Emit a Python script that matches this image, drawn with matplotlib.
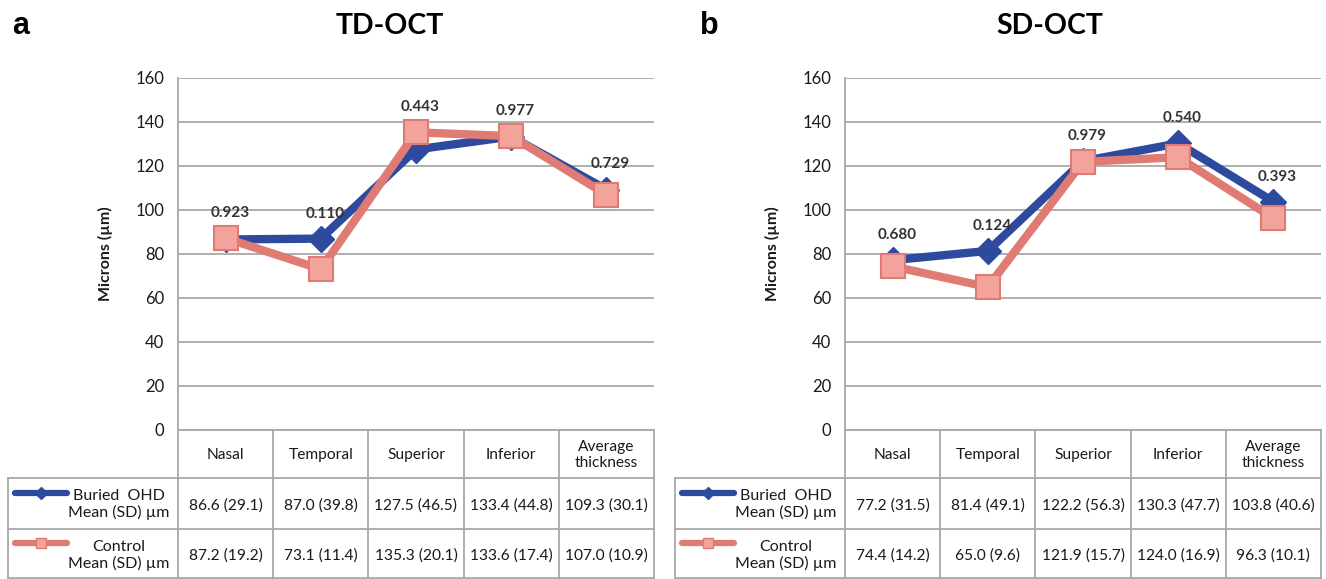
import matplotlib
matplotlib.use("Agg")
import matplotlib.pyplot as plt
from matplotlib.lines import Line2D

plt.rcParams['font.family'] = ['Lato', 'DejaVu Sans']

# ---------------- data ----------------
categories = ["Nasal", "Temporal", "Superior", "Inferior", "Average\nthickness"]
series_names = ["Buried  OHD\nMean (SD) µm", "Control\nMean (SD) µm"]

td_buried_mean = [86.6, 87.0, 127.5, 133.4, 109.3]
td_buried_sd = [29.1, 39.8, 46.5, 44.8, 30.1]
td_control_mean = [87.2, 73.1, 135.3, 133.6, 107.0]
td_control_sd = [19.2, 11.4, 20.1, 17.4, 10.9]
td_pvalues = ["0.923", "0.110", "0.443", "0.977", "0.729"]

sd_buried_mean = [77.2, 81.4, 122.2, 130.3, 103.8]
sd_buried_sd = [31.5, 49.1, 56.3, 47.7, 40.6]
sd_control_mean = [74.4, 65.0, 121.9, 124.0, 96.3]
sd_control_sd = [14.2, 9.6, 15.7, 16.9, 10.1]
sd_pvalues = ["0.680", "0.124", "0.979", "0.540", "0.393"]

y_ticks = [0, 20, 40, 60, 80, 100, 120, 140, 160]

panels = [
    ("a", "TD-OCT", td_buried_mean, td_buried_sd, td_control_mean, td_control_sd, td_pvalues),
    ("b", "SD-OCT", sd_buried_mean, sd_buried_sd, sd_control_mean, sd_control_sd, sd_pvalues),
]

# ---------------- style ----------------
W, H = 1326, 579
BLUE = "#2D4A9F"
PINK = "#DF7B72"
PINK_FACE = "#F2A39C"
GRID = "#A8A8A8"
TXT = "#1a1a1a"
FS = 11.2

fig = plt.figure(figsize=(W / 100, H / 100), dpi=100)

# overlay axes in pixel coordinates for the table
ov = fig.add_axes([0, 0, 1, 1])
ov.set_xlim(0, W)
ov.set_ylim(H, 0)
ov.axis("off")


def px_axes(l, t, r, b):
    return fig.add_axes([l / W, 1 - b / H, (r - l) / W, (b - t) / H])


letter_x = [12, 700]
title_x = [390, 1050]

for k, (letter, title, bm, bsd, cm, csd, pv) in enumerate(panels):
    dx = 667 * k
    left, right, top, bottom = 178 + dx, 654 + dx, 78, 430
    ax = px_axes(left, top, right, bottom)
    ax.set_facecolor("none")
    x = list(range(len(categories)))
    ax.set_xlim(-0.5, len(categories) - 0.5)
    ax.set_ylim(0, 160)
    ax.set_yticks(y_ticks)
    ax.set_xticks([])
    ax.grid(axis="y", color=GRID, lw=1.3, zorder=0)
    ax.set_axisbelow(True)
    for s in ["top", "right", "bottom"]:
        ax.spines[s].set_visible(False)
    ax.spines["left"].set_color(GRID)
    ax.spines["left"].set_linewidth(1.3)
    ax.tick_params(axis="y", length=0, pad=10, labelsize=12, labelcolor=TXT)
    ax.set_ylabel("Microns (µm)", fontsize=11.5, fontweight="bold", color=TXT, labelpad=16)

    ax.plot(x, bm, color=BLUE, lw=6, marker="D", ms=13, mfc=BLUE, mec=BLUE,
            zorder=3, clip_on=False)
    ax.plot(x, cm, color=PINK, lw=6, marker="s", ms=17, mfc=PINK_FACE, mec=PINK,
            mew=1.5, zorder=4, clip_on=False)

    for i, p in enumerate(pv):
        ax.annotate(p, (i, max(bm[i], cm[i])), xytext=(3, 13), textcoords="offset points",
                    ha="center", va="bottom", fontsize=11, fontweight="bold", color="#333333")

    # panel letter and title
    fig.text(letter_x[k] / W, 1 - 26 / H, letter, fontsize=22, fontweight="bold",
             family="Liberation Sans", ha="left", va="center", color="black")
    fig.text(title_x[k] / W, 1 - 26 / H, title, fontsize=20.5, fontweight="bold",
             ha="center", va="center", color="black")

    # ---------------- table ----------------
    col_w = (right - left) / len(categories)
    col_edges = [left + col_w * j for j in range(len(categories) + 1)]
    hdr_top, hdr_bot, row_mid, row_bot = 430, 478, 529, 578
    lab_left = 8 + dx
    lw_t = 1.3
    # vertical lines
    for j, xe in enumerate(col_edges):
        ov.plot([xe, xe], [hdr_top, row_bot], color=GRID, lw=lw_t)
    ov.plot([lab_left, lab_left], [hdr_bot, row_bot], color=GRID, lw=lw_t)
    # horizontal lines
    ov.plot([left, right], [hdr_top, hdr_top], color=GRID, lw=lw_t)
    for yy in [hdr_bot, row_mid, row_bot]:
        ov.plot([lab_left, right], [yy, yy], color=GRID, lw=lw_t)

    for j, cat in enumerate(categories):
        cx = (col_edges[j] + col_edges[j + 1]) / 2
        ov.text(cx, (hdr_top + hdr_bot) / 2 + 1, cat, ha="center", va="center",
                fontsize=FS, color=TXT, linespacing=1.1)
        ov.text(cx, (hdr_bot + row_mid) / 2 + 2, f"{bm[j]:.1f} ({bsd[j]:.1f})",
                ha="center", va="center", fontsize=FS, color=TXT)
        ov.text(cx, (row_mid + row_bot) / 2 + 2, f"{cm[j]:.1f} ({csd[j]:.1f})",
                ha="center", va="center", fontsize=FS, color=TXT)

    # row labels with legend keys
    ov.text(lab_left + 111, (hdr_bot + row_mid) / 2 + 1, series_names[0], ha="center",
            va="center", fontsize=FS + 0.3, color=TXT, linespacing=1.15)
    ov.text(lab_left + 111, (row_mid + row_bot) / 2 + 2, series_names[1], ha="center",
            va="center", fontsize=FS + 0.3, color=TXT, linespacing=1.15)
    ov.add_line(Line2D([lab_left + 7, lab_left + 59], [493, 493], color=BLUE, lw=4.5,
                       solid_capstyle="round"))
    ov.add_line(Line2D([lab_left + 33], [493], color=BLUE, marker="D", ms=6, lw=0))
    ov.add_line(Line2D([lab_left + 7, lab_left + 59], [543, 543], color=PINK, lw=4.5,
                       solid_capstyle="round"))
    ov.add_line(Line2D([lab_left + 33], [543], color=PINK, marker="s", ms=7, lw=0,
                       mfc=PINK_FACE, mec=PINK))

fig.savefig("out.png", dpi=100)
